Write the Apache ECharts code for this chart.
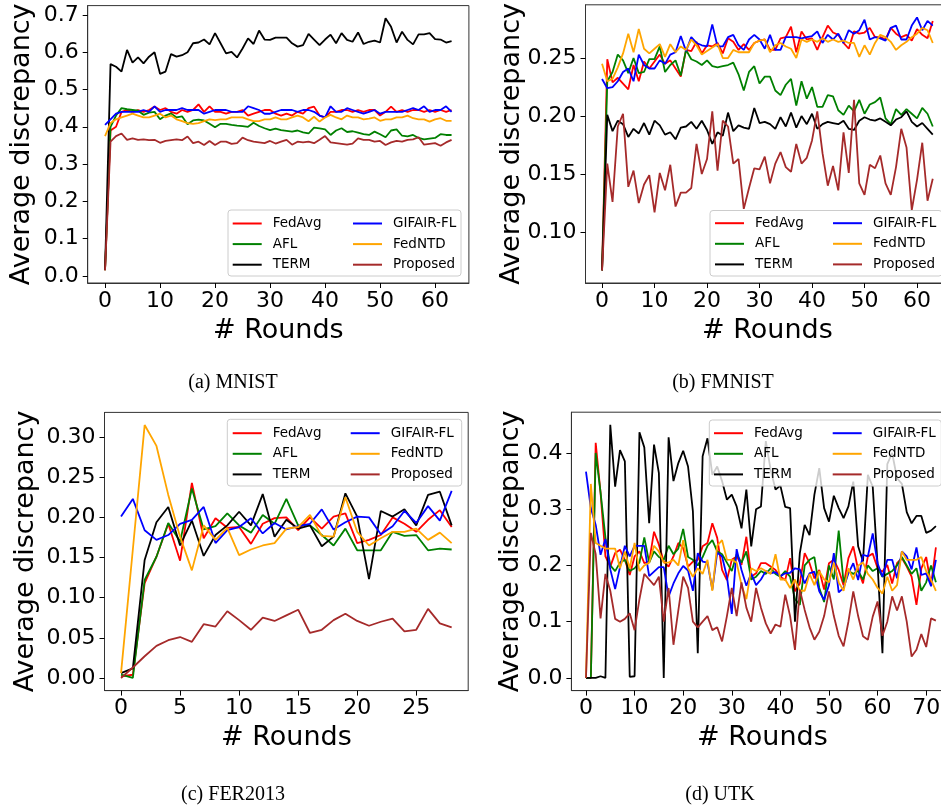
<!DOCTYPE html>
<html>
<head>
<meta charset="utf-8">
<script src="https://cdn.jsdelivr.net/npm/echarts@6/dist/echarts.min.js"></script>
<style>
  html, body { margin: 0; padding: 0; background: #fff; }
  #main { width: 941px; height: 807px; }
</style>
</head>
<body>
<div id="main"></div>
<script>
// ---- series names / colours (matplotlib defaults)
var methods = ['FedAvg', 'AFL', 'TERM', 'GIFAIR-FL', 'FedNTD', 'Proposed'];
var methodColors = ['#ff0000', '#008000', '#000000', '#0000ff', '#ffa500', '#a52a2a'];

// ---- (a) MNIST, rounds 0..63
var mnistFedAvg = [0.015, 0.39, 0.40, 0.44, 0.445, 0.44, 0.445, 0.44, 0.445, 0.454,
  0.445, 0.45, 0.44, 0.435, 0.445, 0.44, 0.445, 0.46, 0.44, 0.455,
  0.44, 0.44, 0.435, 0.44, 0.44, 0.445, 0.43, 0.435, 0.44, 0.445,
  0.445, 0.435, 0.43, 0.435, 0.43, 0.44, 0.435, 0.45, 0.454, 0.43,
  0.425, 0.44, 0.44, 0.445, 0.445, 0.44, 0.445, 0.44, 0.445, 0.445,
  0.43, 0.44, 0.454, 0.44, 0.445, 0.44, 0.445, 0.445, 0.44, 0.445,
  0.44, 0.445, 0.44, 0.445];
var mnistAFL = [0.015, 0.40, 0.43, 0.45, 0.447, 0.445, 0.443, 0.432, 0.438, 0.44,
  0.42, 0.43, 0.436, 0.425, 0.428, 0.407, 0.417, 0.419, 0.417, 0.408,
  0.399, 0.408, 0.408, 0.405, 0.403, 0.402, 0.40, 0.411, 0.402, 0.396,
  0.391, 0.395, 0.391, 0.389, 0.387, 0.39, 0.385, 0.382, 0.398, 0.396,
  0.393, 0.378, 0.39, 0.396, 0.386, 0.388, 0.384, 0.38, 0.378, 0.387,
  0.38, 0.372, 0.39, 0.393, 0.376, 0.374, 0.378, 0.37, 0.366, 0.368,
  0.37, 0.38, 0.378, 0.378];
var mnistTERM = [0.016, 0.568, 0.561, 0.548, 0.606, 0.572, 0.586, 0.570, 0.588, 0.600,
  0.542, 0.548, 0.595, 0.588, 0.592, 0.600, 0.624, 0.626, 0.634, 0.621,
  0.651, 0.624, 0.597, 0.601, 0.586, 0.610, 0.637, 0.622, 0.658, 0.634,
  0.633, 0.639, 0.639, 0.639, 0.624, 0.615, 0.619, 0.649, 0.634, 0.619,
  0.634, 0.647, 0.624, 0.651, 0.633, 0.628, 0.653, 0.622, 0.628, 0.631,
  0.626, 0.691, 0.668, 0.626, 0.655, 0.633, 0.621, 0.648, 0.648, 0.651,
  0.635, 0.634, 0.626, 0.630];
var mnistGIFAIR = [0.405, 0.42, 0.435, 0.44, 0.44, 0.44, 0.44, 0.445, 0.44, 0.455,
  0.44, 0.445, 0.445, 0.445, 0.45, 0.445, 0.445, 0.445, 0.435, 0.44,
  0.445, 0.445, 0.445, 0.44, 0.44, 0.44, 0.455, 0.45, 0.445, 0.435,
  0.435, 0.44, 0.445, 0.445, 0.445, 0.44, 0.445, 0.445, 0.44, 0.43,
  0.425, 0.455, 0.44, 0.44, 0.45, 0.445, 0.44, 0.435, 0.44, 0.445,
  0.435, 0.44, 0.44, 0.44, 0.44, 0.445, 0.45, 0.445, 0.455, 0.44,
  0.445, 0.445, 0.455, 0.44];
var mnistFedNTD = [0.375, 0.41, 0.42, 0.425, 0.43, 0.435, 0.43, 0.425, 0.425, 0.43,
  0.435, 0.425, 0.43, 0.42, 0.415, 0.41, 0.408, 0.41, 0.415, 0.42,
  0.418, 0.42, 0.42, 0.425, 0.425, 0.425, 0.42, 0.415, 0.415, 0.42,
  0.42, 0.425, 0.42, 0.42, 0.425, 0.43, 0.425, 0.415, 0.427, 0.414,
  0.425, 0.432, 0.425, 0.42, 0.43, 0.425, 0.425, 0.42, 0.422, 0.425,
  0.416, 0.42, 0.42, 0.425, 0.425, 0.43, 0.423, 0.42, 0.42, 0.414,
  0.42, 0.423, 0.416, 0.416];
var mnistProposed = [0.015, 0.36, 0.375, 0.382, 0.365, 0.369, 0.365, 0.366, 0.364, 0.365,
  0.357, 0.362, 0.364, 0.366, 0.364, 0.374, 0.356, 0.36, 0.351, 0.362,
  0.351, 0.36, 0.36, 0.354, 0.356, 0.371, 0.364, 0.36, 0.358, 0.356,
  0.362, 0.355, 0.36, 0.365, 0.352, 0.36, 0.358, 0.36, 0.356, 0.365,
  0.375, 0.358, 0.356, 0.354, 0.352, 0.355, 0.369, 0.365, 0.365, 0.36,
  0.362, 0.351, 0.358, 0.362, 0.36, 0.365, 0.366, 0.372, 0.352, 0.354,
  0.356, 0.349, 0.358, 0.365];

// ---- (b) FMNIST, rounds 0..63
var fmnistFedAvg = [0.067, 0.249, 0.229, 0.233, 0.228, 0.223, 0.244, 0.230, 0.247, 0.241,
  0.247, 0.253, 0.245, 0.248, 0.241, 0.234, 0.257, 0.256, 0.264, 0.254,
  0.261, 0.260, 0.263, 0.254, 0.267, 0.264, 0.257, 0.262, 0.257, 0.263,
  0.265, 0.266, 0.257, 0.257, 0.267, 0.268, 0.277, 0.255, 0.273, 0.266,
  0.267, 0.257, 0.268, 0.278, 0.272, 0.270, 0.263, 0.258, 0.273, 0.271,
  0.272, 0.276, 0.268, 0.268, 0.266, 0.276, 0.271, 0.268, 0.270, 0.265,
  0.275, 0.270, 0.267, 0.282];
var fmnistAFL = [0.067, 0.230, 0.238, 0.253, 0.248, 0.237, 0.250, 0.237, 0.238, 0.249,
  0.249, 0.260, 0.238, 0.244, 0.248, 0.235, 0.257, 0.249, 0.247, 0.244,
  0.248, 0.243, 0.242, 0.243, 0.244, 0.246, 0.236, 0.222, 0.238, 0.243,
  0.228, 0.234, 0.234, 0.222, 0.218, 0.227, 0.232, 0.209, 0.230, 0.215,
  0.225, 0.208, 0.208, 0.218, 0.217, 0.205, 0.201, 0.209, 0.204, 0.214,
  0.202, 0.210, 0.212, 0.216, 0.198, 0.193, 0.206, 0.201, 0.206, 0.202,
  0.198, 0.207, 0.202, 0.191];
var fmnistTERM = [0.067, 0.201, 0.187, 0.196, 0.193, 0.182, 0.189, 0.185, 0.194, 0.184,
  0.196, 0.192, 0.184, 0.186, 0.180, 0.190, 0.191, 0.195, 0.189, 0.196,
  0.188, 0.176, 0.186, 0.183, 0.203, 0.187, 0.192, 0.190, 0.189, 0.207,
  0.194, 0.195, 0.193, 0.189, 0.199, 0.191, 0.203, 0.190, 0.200, 0.193,
  0.202, 0.189, 0.193, 0.195, 0.194, 0.193, 0.196, 0.189, 0.188, 0.196,
  0.199, 0.197, 0.196, 0.198, 0.195, 0.192, 0.197, 0.199, 0.204, 0.195,
  0.191, 0.194, 0.189, 0.184];
var fmnistGIFAIR = [0.232, 0.224, 0.225, 0.230, 0.238, 0.241, 0.230, 0.253, 0.244, 0.241,
  0.241, 0.248, 0.245, 0.253, 0.255, 0.269, 0.256, 0.268, 0.263, 0.261,
  0.260, 0.279, 0.260, 0.260, 0.268, 0.270, 0.261, 0.257, 0.266, 0.270,
  0.266, 0.258, 0.270, 0.257, 0.257, 0.268, 0.268, 0.268, 0.267, 0.268,
  0.269, 0.273, 0.263, 0.270, 0.266, 0.271, 0.263, 0.274, 0.271, 0.274,
  0.283, 0.266, 0.268, 0.267, 0.265, 0.276, 0.278, 0.266, 0.266, 0.278,
  0.285, 0.274, 0.282, 0.278];
var fmnistFedNTD = [0.245, 0.230, 0.232, 0.242, 0.254, 0.271, 0.255, 0.275, 0.258, 0.254,
  0.258, 0.262, 0.251, 0.262, 0.255, 0.260, 0.257, 0.266, 0.261, 0.253,
  0.256, 0.259, 0.262, 0.250, 0.250, 0.257, 0.255, 0.255, 0.255, 0.263,
  0.265, 0.266, 0.255, 0.261, 0.263, 0.260, 0.258, 0.250, 0.266, 0.264,
  0.266, 0.264, 0.267, 0.264, 0.266, 0.264, 0.265, 0.263, 0.263, 0.251,
  0.261, 0.253, 0.263, 0.270, 0.268, 0.264, 0.257, 0.261, 0.264, 0.268,
  0.271, 0.276, 0.274, 0.263];
var fmnistProposed = [0.067, 0.159, 0.126, 0.191, 0.202, 0.139, 0.153, 0.125, 0.141, 0.149,
  0.117, 0.151, 0.136, 0.158, 0.122, 0.134, 0.134, 0.138, 0.176, 0.150,
  0.163, 0.204, 0.153, 0.196, 0.191, 0.159, 0.163, 0.120, 0.138, 0.155,
  0.154, 0.165, 0.142, 0.159, 0.169, 0.156, 0.152, 0.176, 0.159, 0.164,
  0.179, 0.204, 0.168, 0.140, 0.157, 0.136, 0.186, 0.151, 0.214, 0.142,
  0.132, 0.158, 0.155, 0.166, 0.142, 0.132, 0.156, 0.189, 0.173, 0.119,
  0.145, 0.177, 0.127, 0.146];

// ---- (c) FER2013, rounds 0..28
var ferFedAvg = [0.002, 0.004, 0.118, 0.151, 0.192, 0.146, 0.243, 0.174, 0.199, 0.187,
  0.188, 0.167, 0.192, 0.199, 0.200, 0.184, 0.200, 0.186, 0.201, 0.205,
  0.168, 0.172, 0.178, 0.200, 0.192, 0.182, 0.197, 0.209, 0.188];
var ferAFL = [0.004, 0.0, 0.122, 0.151, 0.193, 0.170, 0.236, 0.185, 0.189, 0.205,
  0.190, 0.181, 0.203, 0.192, 0.223, 0.190, 0.190, 0.178, 0.165, 0.186,
  0.159, 0.159, 0.159, 0.182, 0.177, 0.178, 0.159, 0.161, 0.160];
var ferTERM = [0.006, 0.012, 0.147, 0.194, 0.213, 0.165, 0.196, 0.152, 0.178, 0.190,
  0.207, 0.190, 0.229, 0.176, 0.197, 0.186, 0.190, 0.164, 0.176, 0.230,
  0.201, 0.123, 0.208, 0.201, 0.210, 0.190, 0.228, 0.232, 0.190];
var ferGIFAIR = [0.201, 0.223, 0.184, 0.172, 0.178, 0.192, 0.197, 0.213, 0.168, 0.184,
  0.188, 0.199, 0.180, 0.193, 0.185, 0.189, 0.192, 0.210, 0.185, 0.194,
  0.201, 0.200, 0.179, 0.189, 0.208, 0.193, 0.214, 0.196, 0.233];
var ferFedNTD = [0.006, 0.16, 0.315, 0.289, 0.228, 0.176, 0.134, 0.190, 0.172, 0.187,
  0.153, 0.160, 0.165, 0.168, 0.186, 0.188, 0.203, 0.177, 0.176, 0.225,
  0.182, 0.165, 0.174, 0.182, 0.182, 0.186, 0.172, 0.181, 0.168];
var ferProposed = [0.0, 0.013, 0.027, 0.040, 0.047, 0.051, 0.045, 0.067, 0.064, 0.083,
  0.072, 0.060, 0.075, 0.071, 0.078, 0.085, 0.056, 0.060, 0.072, 0.080,
  0.071, 0.065, 0.070, 0.074, 0.058, 0.060, 0.086, 0.068, 0.063];

// ---- (d) UTK, rounds 0..72
var utkFedAvg = [0, 0, 0.418, 0.329, 0.216, 0.198, 0.222, 0.228, 0.210, 0.183,
  0.216, 0.225, 0.204, 0.207, 0.260, 0.237, 0.207, 0.198, 0.216, 0.240,
  0.231, 0.198, 0.207, 0.210, 0.234, 0.240, 0.275, 0.249, 0.192, 0.174,
  0.210, 0.216, 0.201, 0.251, 0.180, 0.186, 0.204, 0.204, 0.198, 0.192,
  0.180, 0.174, 0.213, 0.154, 0.168, 0.222, 0.204, 0.177, 0.192, 0.157,
  0.204, 0.210, 0.192, 0.165, 0.213, 0.234, 0.192, 0.168, 0.216, 0.221,
  0.195, 0.189, 0.201, 0.168, 0.204, 0.213, 0.198, 0.180, 0.130, 0.195,
  0.215, 0.165, 0.232];
var utkAFL = [0, 0, 0.40, 0.33, 0.25, 0.20, 0.19, 0.205, 0.21, 0.19,
  0.195, 0.205, 0.25, 0.205, 0.225, 0.215, 0.21, 0.235, 0.22, 0.23,
  0.265, 0.215, 0.21, 0.20, 0.215, 0.235, 0.245, 0.225, 0.22, 0.205,
  0.19, 0.22, 0.205, 0.225, 0.175, 0.18, 0.19, 0.185, 0.195, 0.185,
  0.18, 0.19, 0.18, 0.14, 0.13, 0.20, 0.21, 0.215, 0.16, 0.135,
  0.20, 0.175, 0.262, 0.17, 0.19, 0.185, 0.19, 0.175, 0.20, 0.19,
  0.195, 0.18, 0.185, 0.19, 0.20, 0.215, 0.20, 0.185, 0.195, 0.155,
  0.17, 0.20, 0.17];
var utkTERM = [0, 0, 0, 0.003, 0, 0.45, 0.34, 0.405, 0.385, 0.002,
  0.003, 0.437, 0.41, 0.275, 0.415, 0.364, 0.0, 0.428, 0.35, 0.382,
  0.404, 0.376, 0.296, 0.044, 0.394, 0.426, 0.361, 0.376, 0.35, 0.317,
  0.326, 0.305, 0.266, 0.335, 0.234, 0.30, 0.305, 0.421, 0.37, 0.335,
  0.342, 0.304, 0.302, 0.10, 0.222, 0.272, 0.254, 0.326, 0.373, 0.302,
  0.278, 0.324, 0.302, 0.284, 0.305, 0.349, 0.234, 0.207, 0.361, 0.340,
  0.201, 0.044, 0.38, 0.40, 0.355, 0.345, 0.295, 0.275, 0.288, 0.288,
  0.258, 0.262, 0.27];
var utkGIFAIR = [0.367, 0.302, 0.272, 0.219, 0.247, 0.193, 0.158, 0.197, 0.235, 0.216,
  0.235, 0.235, 0.235, 0.181, 0.189, 0.197, 0.197, 0.145, 0.168, 0.186,
  0.199, 0.191, 0.155, 0.222, 0.207, 0.205, 0.157, 0.223, 0.216, 0.180,
  0.114, 0.229, 0.192, 0.164, 0.186, 0.165, 0.175, 0.190, 0.186, 0.188,
  0.181, 0.186, 0.187, 0.195, 0.193, 0.168, 0.186, 0.189, 0.154, 0.139,
  0.165, 0.222, 0.152, 0.160, 0.186, 0.204, 0.174, 0.219, 0.216, 0.257,
  0.204, 0.180, 0.210, 0.210, 0.177, 0.225, 0.216, 0.193, 0.232, 0.183,
  0.186, 0.163, 0.210];
var utkFedNTD = [0, 0.345, 0.24, 0.235, 0.23, 0.23, 0.23, 0.195, 0.225, 0.195,
  0.24, 0.19, 0.20, 0.205, 0.235, 0.225, 0.205, 0.205, 0.21, 0.20,
  0.245, 0.195, 0.18, 0.195, 0.185, 0.21, 0.155, 0.235, 0.245, 0.21,
  0.21, 0.205, 0.165, 0.14, 0.195, 0.19, 0.195, 0.19, 0.185, 0.22,
  0.175, 0.175, 0.16, 0.175, 0.155, 0.155, 0.185, 0.165, 0.19, 0.175,
  0.17, 0.205, 0.17, 0.155, 0.195, 0.175, 0.20, 0.205, 0.185, 0.175,
  0.16, 0.15, 0.18, 0.155, 0.165, 0.225, 0.21, 0.21, 0.21, 0.215,
  0.19, 0.175, 0.155];
var utkProposed = [0, 0.258, 0.22, 0.106, 0.185, 0.155, 0.105, 0.10, 0.105, 0.115,
  0.085, 0.14, 0.185, 0.175, 0.165, 0.18, 0.10, 0.16, 0.059, 0.12,
  0.18, 0.16, 0.10, 0.09, 0.10, 0.11, 0.085, 0.09, 0.065, 0.11,
  0.16, 0.11, 0.17, 0.125, 0.10, 0.16, 0.125, 0.097, 0.079, 0.095,
  0.091, 0.148, 0.11, 0.05, 0.157, 0.121, 0.09, 0.068, 0.082, 0.11,
  0.154, 0.11, 0.075, 0.056, 0.10, 0.154, 0.11, 0.074, 0.068, 0.109,
  0.136, 0.075, 0.10, 0.145, 0.12, 0.145, 0.10, 0.038, 0.05, 0.078,
  0.055, 0.106, 0.102];

// ---- tick labels
var roundTicksMnist = [0, 10, 20, 30, 40, 50, 60];
var roundTicksFmnist = [0, 10, 20, 30, 40, 50, 60];
var roundTicksFer = [0, 5, 10, 15, 20, 25];
var roundTicksUtk = [0, 10, 20, 30, 40, 50, 60, 70];
var discTicksMnist = [0, 0.1, 0.2, 0.3, 0.4, 0.5, 0.6, 0.7];
var discTicksFmnist = [0.10, 0.15, 0.20, 0.25];
var discTicksFer = [0, 0.05, 0.10, 0.15, 0.20, 0.25, 0.30];
var discTicksUtk = [0, 0.1, 0.2, 0.3, 0.4];

// ---- panel layout (pixel boxes of each matplotlib axes)
var panels = [
  { series: [mnistFedAvg, mnistAFL, mnistTERM, mnistGIFAIR, mnistFedNTD, mnistProposed],
    xTicks: roundTicksMnist, yTicks: discTicksMnist, digits: 1,
    left: 87.7, top: 5.6, width: 381.2, height: 277.4,
    xMin: -3.15, xMax: 66.15, yMin: -0.019, yMax: 0.725, yNameGap: 52,
    box: [228, 210, 233, 66], leg1: 232.7, leg2: 353, legTop: 215.5,
    caption: '(a) MNIST', capX: 233, capY: 383 },
  { series: [fmnistFedAvg, fmnistAFL, fmnistTERM, fmnistGIFAIR, fmnistFedNTD, fmnistProposed],
    xTicks: roundTicksFmnist, yTicks: discTicksFmnist, digits: 2,
    left: 585.5, top: 4.8, width: 363.8, height: 278.2,
    xMin: -3.15, xMax: 66.15, yMin: 0.0561, yMax: 0.2959, yNameGap: 60,
    box: [710, 210.5, 232, 65.5], leg1: 715, leg2: 833, legTop: 215.2,
    caption: '(b) FMNIST', capX: 723, capY: 383 },
  { series: [ferFedAvg, ferAFL, ferTERM, ferGIFAIR, ferFedNTD, ferProposed],
    xTicks: roundTicksFer, yTicks: discTicksFer, digits: 2,
    left: 104.5, top: 412.4, width: 363.7, height: 278.2,
    xMin: -1.4, xMax: 29.4, yMin: -0.01575, yMax: 0.33075, yNameGap: 65,
    box: [227.3, 419.3, 234.4, 66.7], leg1: 232.7, leg2: 350.7, legTop: 425.2,
    caption: '(c) FER2013', capX: 233, capY: 795 },
  { series: [utkFedAvg, utkAFL, utkTERM, utkGIFAIR, utkFedNTD, utkProposed],
    xTicks: roundTicksUtk, yTicks: discTicksUtk, digits: 1,
    left: 571.4, top: 412.2, width: 382, height: 278.4,
    xMin: -3.0, xMax: 75.6, yMin: -0.0225, yMax: 0.4725, yNameGap: 47,
    box: [709.3, 420, 232, 66], leg1: 714, leg2: 832.7, legTop: 425.2,
    caption: '(d) UTK', capX: 720, capY: 795 }
];

var font = 'DejaVu Sans';
var frameColor = '#333';

var grids = [], xAxes = [], yAxes = [], series = [], legends = [], graphics = [];

panels.forEach(function (p, pi) {
  grids.push({
    left: p.left, top: p.top, width: p.width, height: p.height,
    show: true, borderColor: frameColor, borderWidth: 1,
    containLabel: false, outerBoundsMode: 'none'
  });
  xAxes.push({
    type: 'value', gridIndex: pi, min: p.xMin, max: p.xMax,
    name: '# Rounds', nameLocation: 'middle', nameGap: 34, nameMoveOverlap: false,
    nameTextStyle: { fontFamily: font, fontSize: 27, color: '#000' },
    axisLine: { show: true, onZero: false, lineStyle: { color: frameColor, width: 1 } },
    axisTick: { show: true, length: 5, customValues: p.xTicks, lineStyle: { color: '#000' } },
    axisLabel: { customValues: p.xTicks, margin: 7, fontFamily: font, fontSize: 22, color: '#000',
      formatter: function (v) { return String(v); } },
    splitLine: { show: false }
  });
  yAxes.push({
    type: 'value', gridIndex: pi, min: p.yMin, max: p.yMax,
    name: 'Average discrepancy', nameLocation: 'middle', nameGap: p.yNameGap, nameMoveOverlap: false,
    nameTextStyle: { fontFamily: font, fontSize: 27, color: '#000' },
    axisLine: { show: true, onZero: false, lineStyle: { color: frameColor, width: 1 } },
    axisTick: { show: true, length: 5, customValues: p.yTicks, lineStyle: { color: '#000' } },
    axisLabel: { customValues: p.yTicks, margin: 9, fontFamily: font, fontSize: 22, color: '#000',
      formatter: function (v) { return v.toFixed(p.digits); } },
    splitLine: { show: false }
  });
  p.series.forEach(function (vals, k) {
    series.push({
      type: 'line', name: methods[k], xAxisIndex: pi, yAxisIndex: pi,
      data: vals.map(function (v, i) { return [i, v]; }),
      symbol: 'none', clip: true, z: 2 + k * 0.01,
      itemStyle: { color: methodColors[k] },
      lineStyle: { color: methodColors[k], width: 1.8 }
    });
  });
  var legendCommon = {
    orient: 'vertical', top: p.legTop, padding: 0, itemGap: 4.6,
    itemWidth: 29, itemHeight: 2, icon: 'rect', selectedMode: false, z: 5,
    textStyle: { fontFamily: font, fontSize: 13.5, color: '#000', lineHeight: 16, padding: [0, 0, 0, 6] }
  };
  legends.push(Object.assign({}, legendCommon, { left: p.leg1, data: methods.slice(0, 3) }));
  legends.push(Object.assign({}, legendCommon, { left: p.leg2, data: methods.slice(3) }));
  graphics.push({
    type: 'rect', z: 4,
    shape: { x: p.box[0], y: p.box[1], width: p.box[2], height: p.box[3], r: 3 },
    style: { fill: 'rgba(255,255,255,0.8)', stroke: '#cccccc', lineWidth: 1 }
  });
  graphics.push({
    type: 'text', z: 4, x: p.capX, y: p.capY,
    style: { text: p.caption, fontFamily: 'Liberation Serif', fontSize: 20, fill: '#000',
      align: 'center', verticalAlign: 'middle' }
  });
});

var chart = echarts.init(document.getElementById('main'), null, { renderer: 'canvas' });
chart.setOption({
  animation: false,
  backgroundColor: '#fff',
  grid: grids,
  xAxis: xAxes,
  yAxis: yAxes,
  legend: legends,
  graphic: graphics,
  series: series
});
</script>
</body>
</html>
